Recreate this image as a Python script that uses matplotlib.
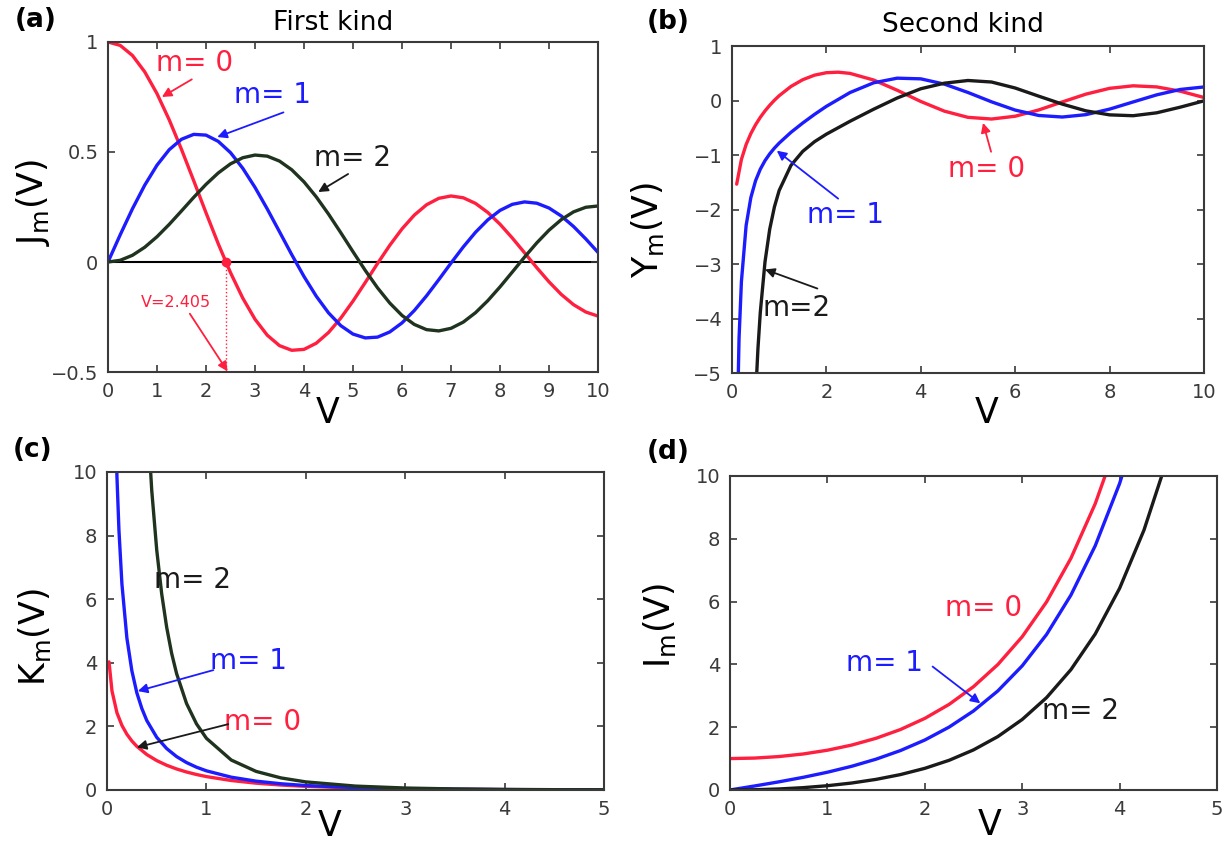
import matplotlib.pyplot as plt
import numpy as np

RED = "#ff1f3f"
BLUE = "#1c1cff"
GREEN = "#1f331f"
BLACK = "#1a1a1a"
GRAY = "#3a3a3a"

# (a) first kind J_m(V), sampled every 0.25 from 0 to 10
v_a = np.arange(0, 10.01, 0.25)
j0 = [1.0, 0.9844, 0.9385, 0.8642, 0.7652, 0.6459, 0.5118, 0.3690, 0.2239, 0.0828,
      -0.0484, -0.1641, -0.2601, -0.3327, -0.3801, -0.4013, -0.3971, -0.3691, -0.3205,
      -0.2551, -0.1776, -0.0931, -0.0068, 0.0759, 0.1506, 0.2130, 0.2601, 0.2894, 0.3001,
      0.2919, 0.2663, 0.2252, 0.1717, 0.1092, 0.0419, -0.0259, -0.0903, -0.1474, -0.1939,
      -0.2273, -0.2459]
j1 = [0.0, 0.1240, 0.2423, 0.3493, 0.4401, 0.5106, 0.5579, 0.5801, 0.5767, 0.5483,
      0.4971, 0.4260, 0.3391, 0.2411, 0.1374, 0.0333, -0.0660, -0.1555, -0.2311, -0.2892,
      -0.3276, -0.3450, -0.3414, -0.3179, -0.2767, -0.2207, -0.1538, -0.0803, -0.0047,
      0.0685, 0.1352, 0.1915, 0.2346, 0.2621, 0.2731, 0.2672, 0.2453, 0.2091, 0.1613,
      0.1049, 0.0435]
j2 = [0.0, 0.0078, 0.0306, 0.0671, 0.1149, 0.1711, 0.2321, 0.2940, 0.3528, 0.4047,
      0.4461, 0.4739, 0.4861, 0.4811, 0.4586, 0.4191, 0.3641, 0.2959, 0.2178, 0.1333,
      0.0466, -0.0383, -0.1173, -0.1865, -0.2429, -0.2837, -0.3074, -0.3132, -0.3014,
      -0.2731, -0.2303, -0.1758, -0.1130, -0.0457, 0.0223, 0.0870, 0.1448, 0.1926, 0.2279,
      0.2488, 0.2546]
v_cut = 2.405

# (b) second kind Y_m(V)
tail_b = [2.5, 3, 3.5, 4, 4.5, 5, 5.5, 6, 6.5, 7, 7.5, 8, 8.5, 9, 9.5, 10]
v_y0 = [0.1, 0.2, 0.3, 0.4, 0.5, 0.6, 0.7, 0.8, 0.9, 1, 1.25, 1.5, 1.75, 2, 2.25] + tail_b
y0 = [-1.5342, -1.0811, -0.8073, -0.6060, -0.4445, -0.3085, -0.1907, -0.0868, 0.0056,
      0.0883, 0.2584, 0.3824, 0.4655, 0.5104, 0.5201, 0.4981, 0.3769, 0.1890, -0.0169,
      -0.1947, -0.3085, -0.3395, -0.2882, -0.1732, -0.0259, 0.1173, 0.2235, 0.2702,
      0.2499, 0.1712, 0.0557]
v_y1 = [0.1, 0.15, 0.2, 0.3, 0.4, 0.5, 0.6, 0.7, 0.8, 0.9, 1, 1.25, 1.5, 1.75, 2] + tail_b
y1 = [-6.459, -4.364, -3.3238, -2.2931, -1.7809, -1.4715, -1.2604, -1.1032, -0.9781,
      -0.8731, -0.7812, -0.5835, -0.4123, -0.2538, -0.1070, 0.1459, 0.3247, 0.4102,
      0.3979, 0.3010, 0.1479, -0.0238, -0.1750, -0.2741, -0.3027, -0.2591, -0.1581,
      -0.0262, 0.1043, 0.2032, 0.2490]
v_y2 = [0.5, 0.55, 0.6, 0.7, 0.8, 0.9, 1, 1.25, 1.5, 1.75, 2] + tail_b
y2 = [-5.4414, -4.56, -3.89, -2.96, -2.36, -1.95, -1.6507, -1.19, -0.9322, -0.7548,
      -0.6174, -0.3813, -0.1604, 0.0460, 0.2159, 0.3183, 0.3676, 0.3396, 0.2299, 0.0799,
      -0.0660, -0.1890, -0.2630, -0.2787, -0.2252, -0.1216, -0.0059]

# (c) modified, second kind K_m(V)
tail_c = [1, 1.25, 1.5, 1.75, 2, 2.5, 3, 3.5, 4, 4.5, 5]
v_k0 = [0.02, 0.05, 0.1, 0.15, 0.2, 0.25, 0.3, 0.4, 0.5, 0.6, 0.7, 0.8, 0.9] + tail_c
k0 = [4.0285, 3.1142, 2.4271, 2.0300, 1.7527, 1.5415, 1.3725, 1.1145, 0.9244, 0.7775,
      0.6605, 0.5653, 0.4867, 0.4210, 0.2976, 0.2138, 0.1554, 0.1139, 0.0623, 0.0347,
      0.0196, 0.0112, 0.0064, 0.0037]
v_k1 = [0.09, 0.1, 0.12, 0.15, 0.2, 0.25, 0.3, 0.35, 0.4, 0.5, 0.6, 0.7, 0.8, 0.9] + tail_c
k1 = [10.97, 9.8538, 8.17, 6.478, 4.7760, 3.747, 3.0560, 2.566, 2.1844, 1.6564, 1.3028,
      1.0503, 0.8618, 0.7165, 0.6019, 0.4020, 0.2774, 0.1955, 0.1399, 0.0739, 0.0402,
      0.0222, 0.0125, 0.0071, 0.0040]
v_k2 = [0.4, 0.45, 0.5, 0.55, 0.6, 0.65, 0.7, 0.8, 0.9] + tail_c
k2 = [12.04, 9.42, 7.55, 6.17, 5.12, 4.30, 3.66, 2.72, 2.08, 1.625, 0.941, 0.584, 0.379,
      0.254, 0.122, 0.0615, 0.0323, 0.0175, 0.0096, 0.0053]

# (d) modified, first kind I_m(V), sampled every 0.25
v_i = np.arange(0, 4.51, 0.25)
i0 = [1.0, 1.0156, 1.0635, 1.1456, 1.2661, 1.4304, 1.6467, 1.9251, 2.2796, 2.7268,
      3.2898, 3.9955, 4.8808, 5.9887, 7.3782, 9.1180, 11.3019]
i1 = [0.0, 0.1260, 0.2579, 0.4020, 0.5652, 0.7552, 0.9817, 1.2554, 1.5906, 2.0037,
      2.5167, 3.1550, 3.9534, 4.9520, 6.2058, 7.7790, 9.7595, 12.249, 15.3892]
i2 = [0.0, 0.0078, 0.0319, 0.0736, 0.1357, 0.2219, 0.3378, 0.4902, 0.6889, 0.9456,
      1.2765, 1.7008, 2.2452, 2.9411, 3.8320, 4.9688, 6.4222, 8.275, 10.6416]

LW = 2.4
fig = plt.figure(figsize=(12.23, 8.43), dpi=100)
ax_a = fig.add_axes([0.0883, 0.5587, 0.4007, 0.3915])
ax_b = fig.add_axes([0.5985, 0.5575, 0.3859, 0.3879])
ax_c = fig.add_axes([0.0875, 0.0629, 0.4064, 0.3772])
ax_d = fig.add_axes([0.5969, 0.0629, 0.3982, 0.3725])


def style(ax, xlim, ylim, xticks, yticks, ylabels):
    ax.set_xlim(xlim)
    ax.set_ylim(ylim)
    ax.set_xticks(xticks)
    ax.set_xticklabels([str(t) for t in xticks])
    ax.set_yticks(yticks)
    ax.set_yticklabels(ylabels)
    ax.tick_params(direction="in", top=True, right=True, length=5, width=1.2,
                   labelsize=14, labelcolor=GRAY, color=GRAY, pad=7)
    for s in ax.spines.values():
        s.set_linewidth(1.5)
        s.set_color(GRAY)


def curve(ax, x, y, color):
    ax.plot(x, y, color=color, lw=LW, solid_joinstyle="round", solid_capstyle="round")


def arrow(ax, head, tail, color):
    ax.annotate("", xy=head, xytext=tail,
                arrowprops=dict(arrowstyle="-|>", color=color, lw=1.3,
                                mutation_scale=14, shrinkA=0, shrinkB=0))


# (a)
ax = ax_a
ax.axhline(0, color="black", lw=1.5, zorder=1)
curve(ax, v_a, j0, RED)
curve(ax, v_a, j1, BLUE)
curve(ax, v_a, j2, GREEN)
ax.plot([v_cut, v_cut], [0, -0.5], ls=":", color=RED, lw=1)
ax.plot(v_cut, 0, "o", color=RED, ms=6, zorder=5)
style(ax, (0, 10), (-0.5, 1), list(range(11)), [-0.5, 0, 0.5, 1], ["\u22120.5", "0", "0.5", "1"])
ax.text(1.76, 0.905, "m= 0", color=RED, fontsize=20, ha="center", va="center")
arrow(ax, (1.10, 0.75), (1.71, 0.83), RED)
ax.text(3.36, 0.758, "m= 1", color=BLUE, fontsize=20, ha="center", va="center")
arrow(ax, (2.23, 0.568), (3.58, 0.68), BLUE)
ax.text(4.98, 0.473, "m= 2", color=BLACK, fontsize=20, ha="center", va="center")
arrow(ax, (4.29, 0.318), (4.90, 0.40), BLACK)
ax.text(1.39, -0.184, "V=2.405", color=RED, fontsize=11.5, ha="center", va="center")
arrow(ax, (2.44, -0.497), (1.67, -0.235), RED)
ax.text(0.459, 1.058, "First kind", transform=ax.transAxes, fontsize=19,
        ha="center", va="center")
ax.text(-0.153, 0.515, r"J$_\mathregular{m}$(V)", transform=ax.transAxes, fontsize=25,
        rotation=90, ha="center", va="center")
ax.text(0.449, -0.125, "V", transform=ax.transAxes, fontsize=25, ha="center", va="center")

# (b)
ax = ax_b
curve(ax, v_y0, y0, RED)
curve(ax, v_y1, y1, BLUE)
curve(ax, v_y2, y2, BLACK)
style(ax, (0, 10), (-5, 1), [0, 2, 4, 6, 8, 10], list(range(-5, 2)),
      ["\u22125", "\u22124", "\u22123", "\u22122", "\u22121", "0", "1"])
ax.text(5.4, -1.26, "m= 0", color=RED, fontsize=20, ha="center", va="center")
arrow(ax, (5.32, -0.41), (5.49, -0.94), RED)
ax.text(2.4, -2.1, "m= 1", color=BLUE, fontsize=20, ha="center", va="center")
arrow(ax, (0.95, -0.92), (2.25, -1.8), BLUE)
ax.text(1.37, -3.8, "m=2", color=BLACK, fontsize=20, ha="center", va="center")
arrow(ax, (0.70, -3.1), (1.81, -3.45), BLACK)
ax.text(0.489, 1.064, "Second kind", transform=ax.transAxes, fontsize=19,
        ha="center", va="center")
ax.text(-0.178, 0.437, r"Y$_\mathregular{m}$(V)", transform=ax.transAxes, fontsize=25,
        rotation=90, ha="center", va="center")
ax.text(0.54, -0.122, "V", transform=ax.transAxes, fontsize=25, ha="center", va="center")

# (c)
ax = ax_c
curve(ax, v_k0, k0, RED)
curve(ax, v_k1, k1, BLUE)
curve(ax, v_k2, k2, GREEN)
style(ax, (0, 5), (0, 10), list(range(6)), list(range(0, 11, 2)),
      [str(t) for t in range(0, 11, 2)])
ax.text(0.86, 6.6, "m= 2", color=BLACK, fontsize=20, ha="center", va="center")
ax.text(1.42, 4.05, "m= 1", color=BLUE, fontsize=20, ha="center", va="center")
arrow(ax, (0.31, 3.11), (1.07, 3.77), BLUE)
ax.text(1.56, 2.15, "m= 0", color=RED, fontsize=20, ha="center", va="center")
arrow(ax, (0.30, 1.34), (1.22, 2.07), BLACK)
ax.text(-0.145, 0.48, r"K$_\mathregular{m}$(V)", transform=ax.transAxes, fontsize=25,
        rotation=90, ha="center", va="center")
ax.text(0.448, -0.112, "V", transform=ax.transAxes, fontsize=25, ha="center", va="center")

# (d)
ax = ax_d
curve(ax, v_i[:len(i0)], i0, RED)
curve(ax, v_i, i1, BLUE)
curve(ax, v_i, i2, BLACK)
style(ax, (0, 5), (0, 10), list(range(6)), list(range(0, 11, 2)),
      [str(t) for t in range(0, 11, 2)])
ax.text(2.6, 5.8, "m= 0", color=RED, fontsize=20, ha="center", va="center")
ax.text(1.59, 4.05, "m= 1", color=BLUE, fontsize=20, ha="center", va="center")
arrow(ax, (2.57, 2.76), (2.08, 3.93), BLUE)
ax.text(3.6, 2.5, "m= 2", color=BLACK, fontsize=20, ha="center", va="center")
ax.text(-0.144, 0.525, r"I$_\mathregular{m}$(V)", transform=ax.transAxes, fontsize=25,
        rotation=90, ha="center", va="center")
ax.text(0.534, -0.112, "V", transform=ax.transAxes, fontsize=25, ha="center", va="center")

# panel letters
for label, x, y in [("(a)", 36, 20), ("(b)", 668, 22), ("(c)", 33, 450), ("(d)", 668, 452)]:
    fig.text(x / 1223, 1 - y / 843, label, fontsize=19, fontweight="bold",
             ha="center", va="center")

fig.savefig("out.png", dpi=100)
